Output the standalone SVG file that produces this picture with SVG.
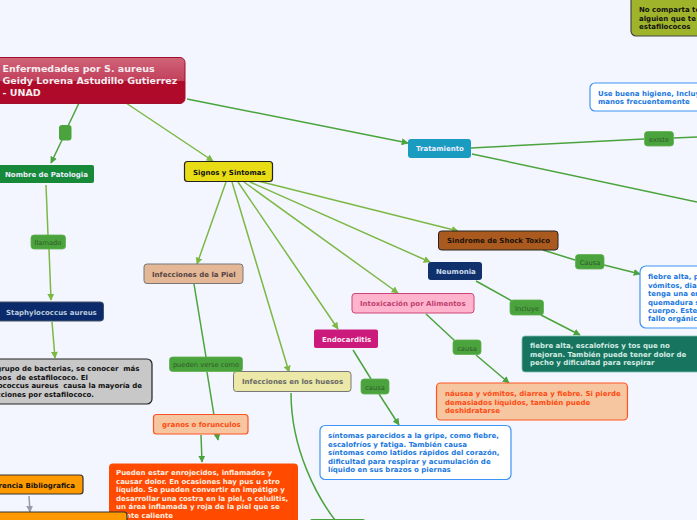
<svg xmlns="http://www.w3.org/2000/svg" width="697" height="520" viewBox="0 0 697 520">
<style>
text{font-family:"DejaVu Sans",Verdana,sans-serif;font-weight:bold;font-size:7px;white-space:pre}
.rt{fill:#f5ecee;font-size:9.500px}
.e{text-anchor:end}
.c{fill:none;stroke:#7cb843;stroke-width:1.5}
.d{fill:none;stroke:#4ba33d;stroke-width:1.5}
.lab rect{fill:#4ba33d;stroke:#5fb050;stroke-width:.8}
.lab text{fill:#2f5a2a;font-weight:normal;font-size:6.700px;text-anchor:middle}
.blue rect{fill:#fff;stroke:#3d94f6;stroke-width:1.2}
.blue text{fill:#1a78e0}
.or rect{fill:#f5c6a0;stroke:#ff5522;stroke-width:1.2}
.or text{fill:#ff4a12}
</style>
<defs>
<marker id="a" viewBox="0 0 10 10" refX="9" refY="5" markerWidth="7" markerHeight="7" markerUnits="userSpaceOnUse" orient="auto"><path d="M0 0L10 5L0 10Z" fill="#7cb843"/></marker>
<marker id="b" viewBox="0 0 10 10" refX="9" refY="5" markerWidth="7" markerHeight="7" markerUnits="userSpaceOnUse" orient="auto"><path d="M0 0L10 5L0 10Z" fill="#4ba33d"/></marker>
<marker id="g" viewBox="0 0 10 10" refX="9" refY="5" markerWidth="7" markerHeight="7" markerUnits="userSpaceOnUse" orient="auto"><path d="M0 0L10 5L0 10Z" fill="#9a9aa8"/></marker>
<linearGradient id="rootg" x1="0" y1="0" x2="0" y2="1"><stop offset="0" stop-color="#cf6478"/><stop offset=".5" stop-color="#c2405c"/><stop offset=".52" stop-color="#b00a2a"/><stop offset="1" stop-color="#b00a2a"/></linearGradient>
</defs>
<rect width="697" height="520" fill="#f3f6ff"/>
<g id="connectors">
<path class="d" d="M79 103L68 126"/>
<path class="d" d="M62 140L51 163" marker-end="url(#b)"/>
<path class="c" d="M126 103L213 161" marker-end="url(#a)"/>
<path class="d" d="M187 99L408 143" marker-end="url(#b)"/>
<path class="d" d="M471 148L644 139M674 138L697 137"/>
<path class="d" d="M472 154L697 202"/>
<path class="c" d="M226 182L197 264" marker-end="url(#a)"/>
<path class="c" d="M232 182L289 372" marker-end="url(#a)"/>
<path class="c" d="M238 182L338 329" marker-end="url(#a)"/>
<path class="c" d="M244 182L398 293" marker-end="url(#a)"/>
<path class="c" d="M250 182L430 262" marker-end="url(#a)"/>
<path class="c" d="M258 181L458 231" marker-end="url(#a)"/>
<path class="d" d="M543 250L575 260"/>
<path class="d" d="M604 265L640 274" marker-end="url(#b)"/>
<path class="d" d="M476 281L512 301"/>
<path class="d" d="M541 315L580 335" marker-end="url(#b)"/>
<path class="d" d="M426 314L455 341"/>
<path class="d" d="M476 355L509 383" marker-end="url(#b)"/>
<path class="d" d="M353 350L371 379"/>
<path class="d" d="M379 394L399 425" marker-end="url(#b)"/>
<path class="c" d="M46 185L48 235"/>
<path class="c" d="M49 249L51 300" marker-end="url(#a)"/>
<path class="c" d="M52 322L55 358" marker-end="url(#a)"/>
<path class="d" d="M194 284L206 357"/>
<path class="d" d="M207 372L218 440" marker-end="url(#b)"/>
<path class="d" d="M201 435L202 462" marker-end="url(#b)"/>
<path class="d" d="M291 393C291 450 318 498 335 520"/>
<path d="M29 496L30 512" fill="none" stroke="#9a9aa8" stroke-width="1.5" marker-end="url(#g)"/>
</g>
<g id="root"><rect x="-40" y="57.500" width="225" height="46" rx="5" fill="url(#rootg)" stroke="#a0102c"/><text class="rt" x="2.500" y="72">Enfermedades por S. aureus</text><text class="rt" x="2.500" y="84">Geidy Lorena Astudillo Gutierrez</text><text class="rt" x="2.500" y="95.500">- UNAD</text></g>
<g id="n-blank"><rect x="59" y="125" width="12.500" height="15.500" rx="3" fill="#4ba33d"/></g>
<g id="n-patologia"><rect x="-20" y="165" width="114" height="18" rx="2" fill="#178a3a"/><text x="5" y="177" fill="#eef">Nombre de Patologia</text></g>
<g id="n-signos"><rect x="184.500" y="161.500" width="88" height="20" rx="3" fill="#e8dc14" stroke="#222" stroke-width="1.200"/><text x="193" y="174.500" fill="#111">Signos y Sintomas</text></g>
<g id="n-tratamiento"><rect x="408" y="139" width="63" height="19" rx="3" fill="#1a9bc0"/><text x="416" y="151" fill="#eef">Tratamiento</text></g>
<g id="n-existe" class="lab"><rect x="644.500" y="131.500" width="29" height="14.500" rx="3"/><text x="659" y="141.500">existe</text></g>
<g id="n-higiene" class="blue"><rect x="590" y="83" width="130" height="28" rx="5"/><text x="598" y="96">Use buena higiene, Incluy</text><text x="598" y="104">manos frecuentemente</text></g>
<g id="n-comparta"><rect x="631" y="-8" width="100" height="44" rx="5" fill="#9fb42a" stroke="#444" stroke-width="1.200"/><text x="639" y="12" fill="#111">No comparta te</text><text x="639" y="21" fill="#111">alguien que te</text><text x="639" y="29" fill="#111">estafilococos</text></g>
<g id="n-shock"><rect x="438.500" y="231" width="119.500" height="19" rx="3" fill="#aa5a1e" stroke="#222"/><text x="447" y="243" fill="#1c1208">Sindrome de Shock Toxico</text></g>
<g id="n-neumonia"><rect x="428" y="262" width="54" height="18" rx="3" fill="#10316b"/><text x="436" y="274" fill="#cde">Neumonia</text></g>
<g id="n-intox"><rect x="352" y="293.500" width="122" height="19.500" rx="3" fill="#ffb3cc" stroke="#cc4477"/><text x="360" y="306" fill="#c04070">Intoxicación por Alimentos</text></g>
<g id="n-endo"><rect x="314" y="329.500" width="64" height="18.500" rx="2" fill="#cc1a7c"/><text x="322" y="341.500" fill="#fbeaf3">Endocarditis</text></g>
<g id="n-huesos"><rect x="233.500" y="371.500" width="117.500" height="20" rx="3" fill="#ece8a8" stroke="#777"/><text x="242" y="384" fill="#666">Infecciones en los huesos</text></g>
<g id="n-piel"><rect x="144" y="264" width="99" height="19.500" rx="3" fill="#e4b896" stroke="#777"/><text x="152" y="276.500" fill="#544">Infecciones de la Piel</text></g>
<g id="n-pueden-lab" class="lab"><rect x="169.500" y="357" width="73" height="14.500" rx="3"/><text x="206" y="367">pueden verse como</text></g>
<g id="n-llamado" class="lab"><rect x="31" y="235" width="34.500" height="14" rx="3"/><text x="48" y="245">llamado</text></g>
<g id="n-staph"><rect x="-20" y="302" width="123.500" height="19" rx="3" fill="#0a2a6b" stroke="#456"/><text x="6" y="314.500" fill="#bcd">Staphylococcus aureus</text></g>
<g id="n-grupo"><rect x="-20" y="359" width="172" height="45" rx="5" fill="#c8c8c8" stroke="#222" stroke-width="1.200"/><g fill="#111"><text class="e" x="139.500" y="371">grupo de bacterias, se conocer  más</text><text class="e" x="88" y="380">tipos  de estafilococo. El</text><text class="e" x="142" y="388">Staphylococcus aureus  causa la mayoría de</text><text class="e" x="94" y="397">infecciones por estafilococo.</text></g></g>
<g id="n-granos" class="or"><rect x="153.500" y="414.500" width="94.500" height="19.500" rx="3"/><text x="162" y="427">granos o forunculos</text></g>
<g id="n-pueden"><rect x="109" y="463.500" width="189" height="70" rx="4" fill="#ff4a00"/><g fill="#ffeee0"><text x="116" y="475">Pueden estar enrojecidos, inflamados y</text><text x="116" y="484">causar dolor. En ocasiones hay pus u otro</text><text x="116" y="492">líquido. Se pueden convertir en impétigo y</text><text x="116" y="501">desarrollar una costra en la piel, o celulitis,</text><text x="116" y="509">un área inflamada y roja de la piel que se</text><text class="e" x="173" y="518">siente caliente</text></g></g>
<g id="n-referencia"><rect x="-30" y="475" width="113" height="19" rx="3" fill="#ff9900" stroke="#333" stroke-width="1.200"/><text class="e" x="75" y="487.500" fill="#111">Referencia Bibliografica</text></g>
<g id="n-refbox"><rect x="-30" y="512" width="157" height="40" rx="3" fill="#ff9900" stroke="#333" stroke-width="1.200"/></g>
<g id="n-causa3" class="lab"><rect x="575.500" y="254.500" width="28.500" height="14.500" rx="3"/><text x="590" y="264.500">Causa</text></g>
<g id="n-incluye" class="lab"><rect x="510" y="300" width="33.500" height="15" rx="3"/><text x="527" y="310.500">Incluye</text></g>
<g id="n-causa1" class="lab"><rect x="453" y="340" width="28" height="14.500" rx="3"/><text x="467" y="350.500">causa</text></g>
<g id="n-causa2" class="lab"><rect x="361" y="379" width="28" height="15" rx="3"/><text x="375" y="389.500">causa</text></g>
<g id="n-fiebre1" class="blue"><rect x="640" y="266" width="100" height="62" rx="6"/><text x="648" y="279">fiebre alta, p</text><text x="648" y="287.500">vómitos, dia</text><text x="648" y="296">tenga una er</text><text x="648" y="304.500">quemadura s</text><text x="648" y="313">cuerpo. Este</text><text x="648" y="321">fallo orgánic</text></g>
<g id="n-fiebre2"><rect x="522" y="336" width="190" height="36" rx="3" fill="#17745f" stroke="#7fc0b0" stroke-width=".8"/><g fill="#d4ece4"><text x="530" y="348">fiebre alta, escalofríos y tos que no</text><text x="530" y="357">mejoran. También puede tener dolor de</text><text x="530" y="365">pecho y dificultad para respirar</text></g></g>
<g id="n-nausea" class="or"><rect x="436.500" y="383" width="191" height="37" rx="4"/><text x="445" y="396">náusea y vómitos, diarrea y fiebre. Si pierde</text><text x="445" y="404.500">demasiados líquidos, también puede</text><text x="445" y="413">deshidratarse</text></g>
<g id="n-sintomas" class="blue"><rect x="320" y="425.500" width="191" height="54" rx="5"/><text x="328" y="438">síntomas parecidos a la gripe, como fiebre,</text><text x="328" y="447">escalofríos y fatiga. También causa</text><text x="328" y="455">síntomas como latidos rápidos del corazón,</text><text x="328" y="464">dificultad para respirar y acumulación de</text><text x="328" y="472">líquido en sus brazos o piernas</text></g>
<g id="n-bottom"><rect x="310" y="519" width="55" height="12" rx="2" fill="#4ba33d"/></g>
</svg>
